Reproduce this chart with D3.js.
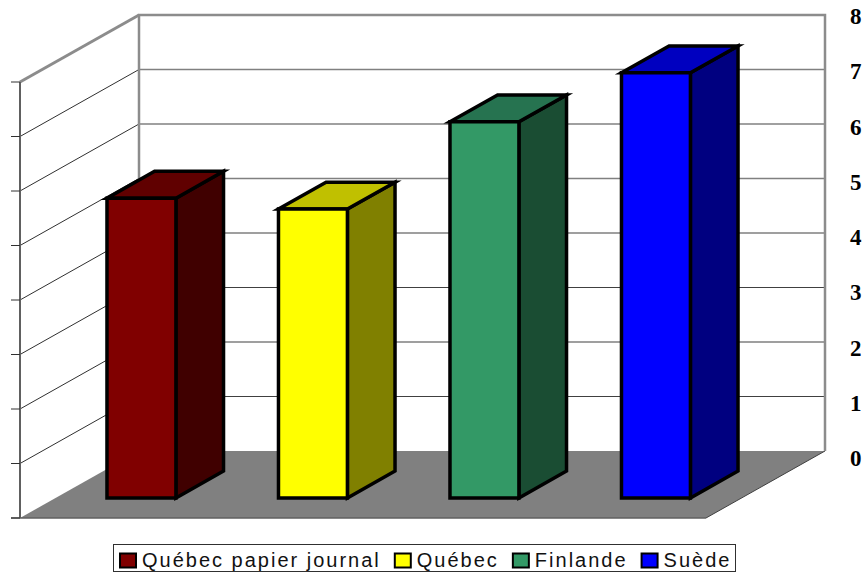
<!DOCTYPE html>
<html>
<head>
<meta charset="utf-8">
<script src="https://cdn.jsdelivr.net/npm/d3@7"></script>
<style>
html, body { margin: 0; padding: 0; background: #fff; }
svg { display: block; }
</style>
</head>
<body>
<div id="chart"></div>
<script>
const categories = ['Québec papier journal', 'Québec', 'Finlande', 'Suède'];
const values = [5.5, 5.3, 6.9, 7.8];
const frontColors = ['#800000', '#ffff00', '#339966', '#0000ff'];
const sideColors = ['#400000', '#808000', '#1a4d33', '#000080'];
const topColors = ['#600000', '#c0c000', '#267350', '#0000c0'];
const yTicks = [0, 1, 2, 3, 4, 5, 6, 7, 8];

const width = 868;
const height = 573;

// back wall frame, the floor runs forward from it
const depthX = -119;
const depthY = 67;
const barDepthFront = 0.7;
const barDepthBack = 0.3;
const barPadding = 0.598;

const svg = d3.select('#chart').append('svg')
    .attr('width', width)
    .attr('height', height);

const x = d3.scaleBand()
    .domain(categories)
    .range([139, 825])
    .paddingInner(barPadding)
    .paddingOuter(barPadding / 2);

const y = d3.scaleLinear().domain([0, 8]).range([451, 15]);
const yLabel = d3.scaleLinear().domain([0, 8]).range([458, 16]);

// project wall coordinates to the screen, depth 0 = back wall, 1 = front of floor
const project = (px, v, depth) => [px + depthX * depth, y(v) + depthY * depth];
const poly = pts => 'M' + pts.map(p => p.join(',')).join('L') + 'Z';

const xLeft = x.range()[0];
const xRight = x.range()[1];

// walls
svg.append('path')
    .attr('d', poly([project(xLeft, 0, 0), project(xLeft, 8, 0), project(xRight, 8, 0), project(xRight, 0, 0)]))
    .attr('fill', '#fff');

// gridlines on both walls
svg.selectAll('.grid-back')
    .data(yTicks.slice(1, -1))
    .enter().append('line')
    .attr('class', 'grid-back')
    .attr('x1', xLeft).attr('x2', xRight)
    .attr('y1', d => y(d)).attr('y2', d => y(d))
    .attr('stroke', d => d >= 5 ? '#808080' : '#404040')
    .attr('stroke-width', d => d >= 5 ? 1.5 : 1.2);

svg.selectAll('.grid-side')
    .data(yTicks.slice(1, -1))
    .enter().append('line')
    .attr('class', 'grid-side')
    .attr('x1', xLeft).attr('y1', d => y(d))
    .attr('x2', d => project(xLeft, d, 1)[0]).attr('y2', d => project(xLeft, d, 1)[1])
    .attr('stroke', '#303030')
    .attr('stroke-width', 1);

// floor
svg.append('path')
    .attr('d', poly([project(xLeft, 0, 0), project(xRight, 0, 0), project(xRight, 0, 1), project(xLeft, 0, 1)]))
    .attr('fill', '#808080');

svg.append('line')
    .attr('x1', project(xRight, 0, 0)[0]).attr('y1', project(xRight, 0, 0)[1])
    .attr('x2', project(xRight, 0, 1)[0]).attr('y2', project(xRight, 0, 1)[1])
    .attr('stroke', '#404040').attr('stroke-width', 1);

svg.append('line')
    .attr('x1', project(xLeft, 0, 1)[0] - 9).attr('y1', project(xLeft, 0, 1)[1])
    .attr('x2', project(xRight, 0, 1)[0]).attr('y2', project(xRight, 0, 1)[1])
    .attr('stroke', '#606060').attr('stroke-width', 1.5);

// wall frame
svg.append('path')
    .attr('d', 'M' + [project(xLeft, 0, 0), project(xLeft, 8, 0), project(xRight, 8, 0), project(xRight, 0, 0)].map(p => p.join(',')).join('L'))
    .attr('fill', 'none').attr('stroke', '#8c8c8c').attr('stroke-width', 2.5);

svg.append('line')
    .attr('x1', project(xLeft, 8, 0)[0]).attr('y1', project(xLeft, 8, 0)[1])
    .attr('x2', project(xLeft, 8, 1)[0]).attr('y2', project(xLeft, 8, 1)[1])
    .attr('stroke', '#8c8c8c').attr('stroke-width', 3);

svg.append('line')
    .attr('x1', project(xLeft, 8, 1)[0]).attr('y1', project(xLeft, 8, 1)[1])
    .attr('x2', project(xLeft, 0, 1)[0]).attr('y2', project(xLeft, 0, 1)[1])
    .attr('stroke', '#606060').attr('stroke-width', 2);

// ticks on the left wall edge
svg.selectAll('.tick-left')
    .data(yTicks)
    .enter().append('line')
    .attr('class', 'tick-left')
    .attr('x1', d => project(xLeft, d, 1)[0] - 9).attr('x2', d => project(xLeft, d, 1)[0])
    .attr('y1', d => project(xLeft, d, 1)[1]).attr('y2', d => project(xLeft, d, 1)[1])
    .attr('stroke', '#303030').attr('stroke-width', 1);

// value labels
svg.selectAll('.y-label')
    .data(yTicks)
    .enter().append('text')
    .attr('class', 'y-label')
    .attr('x', 850)
    .attr('y', d => yLabel(d))
    .attr('dy', '0.35em')
    .attr('font-family', '"Liberation Serif", serif')
    .attr('font-weight', 'bold')
    .attr('font-size', 23)
    .attr('fill', '#000')
    .text(d => d);

// bars
const bars = svg.selectAll('.bar')
    .data(categories.map((name, i) => ({ name, i, value: values[i] })))
    .enter().append('g')
    .attr('class', 'bar')
    .attr('stroke', '#000')
    .attr('stroke-width', 3.5)
    .attr('stroke-linejoin', 'miter');

bars.append('path')
    .attr('fill', d => sideColors[d.i])
    .attr('d', d => {
        const r = x(d.name) + x.bandwidth();
        return poly([project(r, 0, barDepthFront), project(r, d.value, barDepthFront), project(r, d.value, barDepthBack), project(r, 0, barDepthBack)]);
    });

bars.append('path')
    .attr('fill', d => topColors[d.i])
    .attr('d', d => {
        const l = x(d.name), r = l + x.bandwidth();
        return poly([project(l, d.value, barDepthFront), project(l, d.value, barDepthBack), project(r, d.value, barDepthBack), project(r, d.value, barDepthFront)]);
    });

bars.append('path')
    .attr('fill', d => frontColors[d.i])
    .attr('d', d => {
        const l = x(d.name), r = l + x.bandwidth();
        return poly([project(l, 0, barDepthFront), project(l, d.value, barDepthFront), project(r, d.value, barDepthFront), project(r, 0, barDepthFront)]);
    });

// legend
const legend = svg.append('g');
legend.append('rect')
    .attr('x', 113.5).attr('y', 544.5)
    .attr('width', 622).attr('height', 27)
    .attr('fill', '#fff').attr('stroke', '#303030').attr('stroke-width', 1);

let legendX = 120;
categories.forEach((name, i) => {
    legend.append('rect')
        .attr('x', legendX).attr('y', 553.5)
        .attr('width', 16).attr('height', 14)
        .attr('fill', frontColors[i])
        .attr('stroke', '#000').attr('stroke-width', 2);
    const label = legend.append('text')
        .attr('x', legendX + 22).attr('y', 567)
        .attr('font-family', '"Liberation Sans", Arial, sans-serif')
        .attr('font-size', 20)
        .attr('letter-spacing', 2)
        .attr('fill', '#111')
        .text(name);
    legendX += 22 + label.node().getComputedTextLength() + 14;
});
</script>
</body>
</html>
